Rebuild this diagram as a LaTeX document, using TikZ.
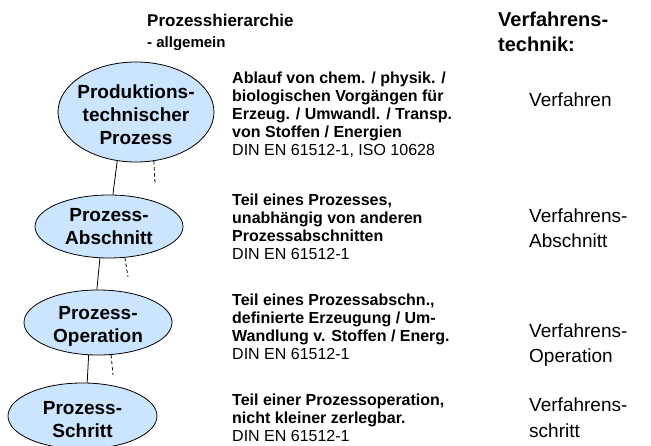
\documentclass[tikz,border=0pt]{standalone}
\usepackage{fontspec}
\setmainfont{Liberation Sans}
\usetikzlibrary{shapes.geometric}
\definecolor{ellfill}{HTML}{CCE5FF}
\begin{document}
\begin{tikzpicture}[x=1pt,y=-1pt,
  proc/.style={ellipse, draw=black, line width=0.8pt, fill=ellfill, inner sep=0pt},
  ptext/.style={font=\fontsize{19}{23}\selectfont\bfseries, align=center, inner sep=0pt},
  desc/.style={anchor=base west, inner sep=0pt, align=left, font=\fontsize{16}{18.2}\selectfont},
  vt/.style={anchor=base west, inner sep=0pt, align=left, font=\fontsize{19}{25.5}\selectfont},
  conn/.style={draw=black, line width=0.8pt},
  dsh/.style={draw=black, line width=0.8pt, dash pattern=on 3.5pt off 2.5pt}]
\useasboundingbox (0,0) rectangle (651,446);
% ellipses
\node[proc, minimum width=156pt, minimum height=100pt] (e1) at (136,112) {};
\node[ptext] (t1) at (136,115) {Produktions-\\technischer\\Prozess};
\node[proc, minimum width=148pt, minimum height=63pt] (e2) at (109,226.5) {};
\node[ptext] (t2) at (109,226.5) {Prozess-\\Abschnitt};
\node[proc, minimum width=148pt, minimum height=65pt] (e3) at (98,322.5) {};
\node[ptext] (t3) at (98,326) {Prozess-\\Operation};
\node[proc, minimum width=149pt, minimum height=66pt] (e4) at (82.5,416) {};
\node[ptext] (t4) at (82.5,420) {Prozess-\\Schritt};
% connectors
\draw[conn] (e1.249) -- (e2.83);
\draw[conn] (e2.254) -- (e3.92);
\draw[conn] (e3.254) -- (e4.82);
\coordinate (d1) at (155,183);
\coordinate (d2) at (128,277);
\coordinate (d3) at (113,375);
\draw[dsh] (e1.290) -- (d1);
\draw[dsh] (e2.297) -- (d2);
\draw[dsh] (e3.292) -- (d3);
% headings
\node[anchor=base west, inner sep=0pt, font=\fontsize{17}{20}\selectfont\bfseries] (title) at (147,27) {Prozesshierarchie};
\node[anchor=base west, inner sep=0pt, font=\fontsize{15}{18}\selectfont\bfseries] (sub) at (147,48) {- allgemein};
\node[vt, font=\fontsize{20}{25}\selectfont\bfseries] (head) at (498,52) {Verfahrens-\\technik:};
% descriptions
\node[desc] (b1) at (232,156) {\textbf{Ablauf von chem. / physik. /}\\\textbf{biologischen Vorgängen für}\\\textbf{Erzeug. / Umwandl. / Transp.}\\\textbf{von Stoffen / Energien}\\DIN EN 61512-1, ISO 10628};
\node[desc] (b2) at (232,260) {\textbf{Teil eines Prozesses,}\\\textbf{unabhängig von anderen}\\\textbf{Prozessabschnitten}\\DIN EN 61512-1};
\node[desc] (b3) at (232,360) {\textbf{Teil eines Prozessabschn.,}\\\textbf{definierte Erzeugung / Um-}\\\textbf{Wandlung v. Stoffen / Energ.}\\DIN EN 61512-1};
\node[desc] (b4) at (232,442) {\textbf{Teil einer Prozessoperation,}\\\textbf{nicht kleiner zerlegbar.}\\DIN EN 61512-1};
% right column
\node[vt] (v1) at (529,107) {Verfahren};
\node[vt] (v2) at (529,248) {Verfahrens-\\Abschnitt};
\node[vt] (v3) at (529,363) {Verfahrens-\\Operation};
\node[vt] (v4) at (529,437) {Verfahrens-\\schritt};
\end{tikzpicture}
\end{document}
